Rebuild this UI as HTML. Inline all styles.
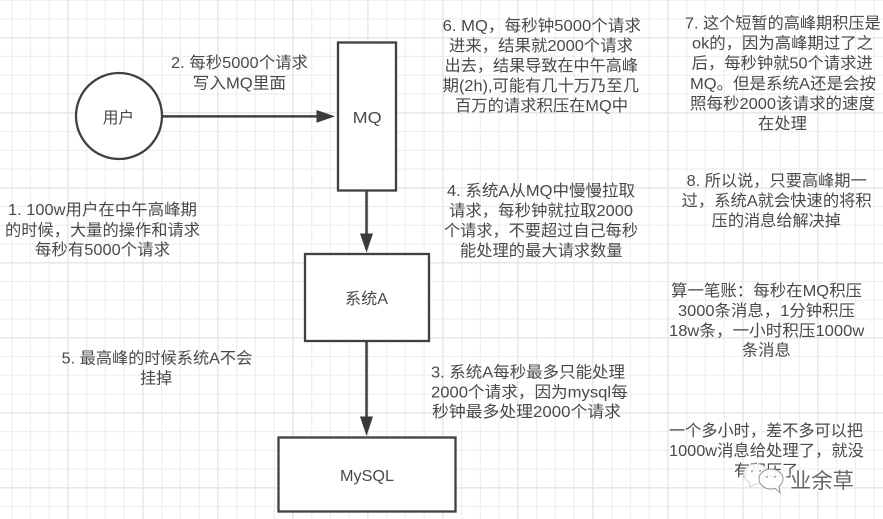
<!DOCTYPE html>
<html lang="zh">
<head>
<meta charset="utf-8">
<style>
html,body{margin:0;padding:0;background:#fff;width:883px;height:519px;overflow:hidden}
svg{display:block}
text{font-family:"Liberation Sans","Noto Sans CJK SC",sans-serif;font-size:16px;fill:#4a4a4a;font-weight:400}
#txt{filter:url(#b)}
</style>
</head>
<body>
<svg width="883" height="519" viewBox="0 0 883 519" xmlns="http://www.w3.org/2000/svg">
<defs>
<filter id="b" x="0" y="0" width="100%" height="100%"><feGaussianBlur stdDeviation="0.35"/></filter>
</defs>
<rect width="883" height="519" fill="#fff"/>
<path fill="none" stroke="#efefef" stroke-width="1.2" d="M11.7 0V519M30.4 0V519M49.2 0V519M86.7 0V519M105.4 0V519M124.2 0V519M161.7 0V519M180.4 0V519M199.2 0V519M236.7 0V519M255.4 0V519M274.2 0V519M311.7 0V519M330.4 0V519M349.2 0V519M386.7 0V519M405.4 0V519M424.2 0V519M461.7 0V519M480.4 0V519M499.2 0V519M536.7 0V519M555.4 0V519M574.2 0V519M611.7 0V519M630.4 0V519M649.2 0V519M686.7 0V519M705.4 0V519M724.2 0V519M761.7 0V519M780.4 0V519M799.2 0V519M836.7 0V519M855.4 0V519M874.2 0V519M0 0.3H883M0 19H883M0 56.5H883M0 75.3H883M0 94H883M0 131.5H883M0 150.3H883M0 169H883M0 206.5H883M0 225.3H883M0 244H883M0 281.5H883M0 300.3H883M0 319H883M0 356.5H883M0 375.3H883M0 394H883M0 431.5H883M0 450.3H883M0 469H883M0 506.5H883"/>
<path fill="none" stroke="#e5e5e5" stroke-width="1.4" d="M67.9 0V519M142.9 0V519M217.9 0V519M292.9 0V519M367.9 0V519M442.9 0V519M517.9 0V519M592.9 0V519M667.9 0V519M742.9 0V519M817.9 0V519M0 37.8H883M0 112.8H883M0 187.8H883M0 262.8H883M0 337.8H883M0 412.8H883M0 487.8H883"/>

<g stroke="#404040" stroke-width="2.3" fill="#fff">
<circle cx="119" cy="116" r="43"/>
<rect x="338" y="42.5" width="58" height="148"/>
<rect x="305" y="254" width="124" height="87"/>
<rect x="278.5" y="437.5" width="177" height="74"/>
</g>
<g stroke="#404040" stroke-width="2.5" fill="none">
<path d="M163 116.4H320"/>
<path d="M366.5 191V236"/>
<path d="M366.5 342V419"/>
</g>
<g fill="#3a3a3a">
<path d="M335 116.4L316.5 110V122.8Z"/>
<path d="M366.5 252.5L360 233.5H373Z"/>
<path d="M366.5 436L360 416.5H373Z"/>
</g>

<g id="txt">
<text x="102.7" y="123" textLength="31.5" lengthAdjust="spacingAndGlyphs">用户</text>
<text x="352.7" y="123" textLength="29" lengthAdjust="spacingAndGlyphs">MQ</text>
<text x="345" y="304" textLength="43" lengthAdjust="spacingAndGlyphs">系统A</text>
<text x="340" y="481" textLength="54" lengthAdjust="spacingAndGlyphs">MySQL</text>

<text x="171" y="68" textLength="137" lengthAdjust="spacingAndGlyphs">2. 每秒5000个请求</text>
<text x="192.7" y="88.5" textLength="93.3" lengthAdjust="spacingAndGlyphs">写入MQ里面</text>

<text x="8" y="215" textLength="189" lengthAdjust="spacingAndGlyphs">1. 100w用户在中午高峰期</text>
<text x="5" y="235.5" textLength="195" lengthAdjust="spacingAndGlyphs">的时候，大量的操作和请求</text>
<text x="35" y="255" textLength="135" lengthAdjust="spacingAndGlyphs">每秒有5000个请求</text>

<text x="442.7" y="31" textLength="198.3" lengthAdjust="spacingAndGlyphs">6. MQ，每秒钟5000个请求</text>
<text x="449" y="51" textLength="184" lengthAdjust="spacingAndGlyphs">进来，结果就2000个请求</text>
<text x="444.7" y="71" textLength="193.3" lengthAdjust="spacingAndGlyphs">出去，结果导致在中午高峰</text>
<text x="442.7" y="91" textLength="196.3" lengthAdjust="spacingAndGlyphs">期(2h),可能有几十万乃至几</text>
<text x="455" y="111" textLength="173" lengthAdjust="spacingAndGlyphs">百万的请求积压在MQ中</text>

<text x="685" y="28.7" textLength="195.7" lengthAdjust="spacingAndGlyphs">7. 这个短暂的高峰期积压是</text>
<text x="692" y="48.7" textLength="181" lengthAdjust="spacingAndGlyphs">ok的，因为高峰期过了之</text>
<text x="691.7" y="68.7" textLength="181" lengthAdjust="spacingAndGlyphs">后，每秒钟就50个请求进</text>
<text x="690" y="89" textLength="186" lengthAdjust="spacingAndGlyphs">MQ。但是系统A还是会按</text>
<text x="690" y="109" textLength="185" lengthAdjust="spacingAndGlyphs">照每秒2000该请求的速度</text>
<text x="758" y="129" textLength="49" lengthAdjust="spacingAndGlyphs">在处理</text>

<text x="447" y="196" textLength="188" lengthAdjust="spacingAndGlyphs">4. 系统A从MQ中慢慢拉取</text>
<text x="449" y="216" textLength="184" lengthAdjust="spacingAndGlyphs">请求，每秒钟就拉取2000</text>
<text x="444" y="236" textLength="194" lengthAdjust="spacingAndGlyphs">个请求，不要超过自己每秒</text>
<text x="460" y="256" textLength="162.7" lengthAdjust="spacingAndGlyphs">能处理的最大请求数量</text>

<text x="686.7" y="186" textLength="180" lengthAdjust="spacingAndGlyphs">8. 所以说，只要高峰期一</text>
<text x="681.7" y="206" textLength="190" lengthAdjust="spacingAndGlyphs">过，系统A就会快速的将积</text>
<text x="711.7" y="226" textLength="129.3" lengthAdjust="spacingAndGlyphs">压的消息给解决掉</text>

<text x="61.7" y="363.7" textLength="190.6" lengthAdjust="spacingAndGlyphs">5. 最高峰的时候系统A不会</text>
<text x="140" y="383.7" textLength="32.3" lengthAdjust="spacingAndGlyphs">挂掉</text>

<text x="431" y="377.7" textLength="194" lengthAdjust="spacingAndGlyphs">3. 系统A每秒最多只能处理</text>
<text x="431" y="397.7" textLength="196.7" lengthAdjust="spacingAndGlyphs">2000个请求，因为mysql每</text>
<text x="432" y="417" textLength="189" lengthAdjust="spacingAndGlyphs">秒钟最多处理2000个请求</text>

<text x="671" y="296" textLength="191" lengthAdjust="spacingAndGlyphs">算一笔账：每秒在MQ积压</text>
<text x="678" y="316" textLength="177" lengthAdjust="spacingAndGlyphs">3000条消息，1分钟积压</text>
<text x="669" y="336" textLength="195.3" lengthAdjust="spacingAndGlyphs">18w条，一小时积压1000w</text>
<text x="742" y="355.7" textLength="48.7" lengthAdjust="spacingAndGlyphs">条消息</text>

<text x="669" y="436" textLength="194" lengthAdjust="spacingAndGlyphs">一个多小时，差不多可以把</text>
<text x="669" y="456" textLength="195" lengthAdjust="spacingAndGlyphs">1000w消息给处理了，就没</text>
<text x="734" y="476" textLength="64" lengthAdjust="spacingAndGlyphs">有积压了</text>
</g>

<!-- watermark -->
<g stroke-width="1" fill="#fff" opacity="0.92">
<ellipse cx="756" cy="474" rx="12" ry="10" stroke="#dcdcdc"/>
<path d="M749 482L750 487L756 484" stroke="#cfcfcf"/>
<ellipse cx="771" cy="479" rx="12" ry="10" stroke="#8f8f8f"/>
<path d="M775 488L780 493L779 486" stroke="#8f8f8f"/>
</g>
<g fill="#888">
<circle cx="767" cy="477" r="0.9"/>
<circle cx="775" cy="477" r="0.9"/>
<circle cx="752" cy="471" r="0.9"/>
<circle cx="760" cy="471" r="0.9"/>
</g>
<text x="790" y="488" textLength="64" lengthAdjust="spacingAndGlyphs" style="font-size:21px;fill:#666;stroke:#fff;stroke-width:2.5px;paint-order:stroke" filter="url(#b)">业余草</text>
</svg>
</body>
</html>
